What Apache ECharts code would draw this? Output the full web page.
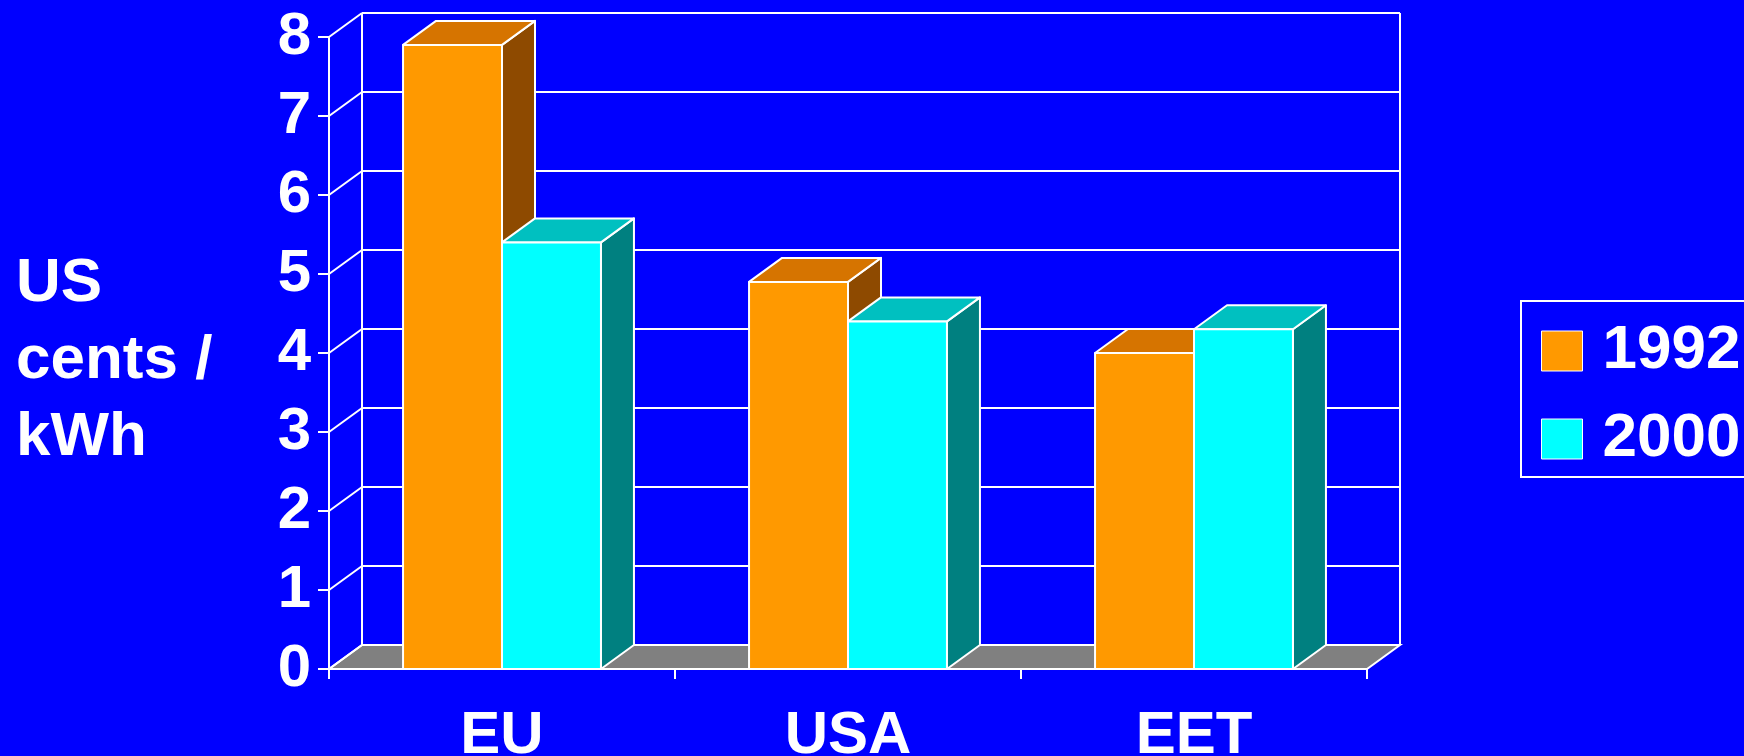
<!DOCTYPE html>
<html>
<head>
<meta charset="utf-8">
<script src="https://cdn.jsdelivr.net/npm/echarts@6/dist/echarts.min.js"></script>
<style>
html,body{margin:0;padding:0;background:#0000FF;}
#chart{width:1744px;height:756px;}
</style>
</head>
<body>
<div id="chart"></div>
<script>
const categories = ['EU', 'USA', 'EET'];
const seriesNames = ['1992', '2000'];
const values1992 = [7.9, 4.9, 4.0];
const values2000 = [5.4, 4.4, 4.3];
const yTicks = [0, 1, 2, 3, 4, 5, 6, 7, 8];

const DX = 33, DY = 24;
const BAR_FRAC = 0.286;
const FONT = 'Liberation Sans, Arial, sans-serif';
const colors = [
  { front: '#FF9900', top: '#D67400', side: '#8E4A00' },
  { front: '#00FFFF', top: '#00C0C0', side: '#008080' }
];

const chart = echarts.init(document.getElementById('chart'), null, { renderer: 'canvas' });

function wallsRender(params, api) {
  const cs = params.coordSys;
  const gx = cs.x, gw = cs.width;
  const children = [];
  const y0 = api.coord([0, yTicks[0]])[1];
  const yTop = api.coord([0, yTicks[yTicks.length - 1]])[1];
  children.push({
    type: 'polygon',
    shape: { points: [[gx, y0], [gx + gw, y0], [gx + gw + DX, y0 - DY], [gx + DX, y0 - DY]] },
    style: { fill: '#808080', stroke: '#FFFFFF', lineWidth: 2 }
  });
  yTicks.forEach(function (v) {
    const y = api.coord([0, v])[1];
    children.push({
      type: 'line',
      shape: { x1: gx + DX, y1: y - DY, x2: gx + gw + DX, y2: y - DY },
      style: { stroke: '#FFFFFF', lineWidth: 2 }
    });
    children.push({
      type: 'line',
      shape: { x1: gx, y1: y, x2: gx + DX, y2: y - DY },
      style: { stroke: '#FFFFFF', lineWidth: 2 }
    });
  });
  children.push({
    type: 'line',
    shape: { x1: gx + DX, y1: y0 - DY, x2: gx + DX, y2: yTop - DY },
    style: { stroke: '#FFFFFF', lineWidth: 2 }
  });
  children.push({
    type: 'line',
    shape: { x1: gx + gw + DX, y1: y0 - DY, x2: gx + gw + DX, y2: yTop - DY },
    style: { stroke: '#FFFFFF', lineWidth: 2 }
  });
  return { type: 'group', children: children };
}

function makeBarRender(idx) {
  return function (params, api) {
    const cat = api.value(0), val = api.value(1);
    const base = api.coord([cat, 0]);
    const top = api.coord([cat, val]);
    const band = api.size([1, 0])[0];
    const w = band * BAR_FRAC;
    const x0 = base[0] + (idx === 0 ? -w : 0);
    const x1 = x0 + w;
    const yb = base[1], yt = top[1];
    const c = colors[idx];
    const st = { stroke: '#FFFFFF', lineWidth: 2, lineJoin: 'round' };
    return {
      type: 'group',
      children: [
        { type: 'polygon', shape: { points: [[x1, yt], [x1 + DX, yt - DY], [x1 + DX, yb - DY], [x1, yb]] },
          style: Object.assign({ fill: c.side }, st) },
        { type: 'polygon', shape: { points: [[x0, yt], [x1, yt], [x1 + DX, yt - DY], [x0 + DX, yt - DY]] },
          style: Object.assign({ fill: c.top }, st) },
        { type: 'rect', shape: { x: x0, y: yt, width: w, height: yb - yt },
          style: Object.assign({ fill: c.front }, st) }
      ]
    };
  };
}

const option = {
  backgroundColor: '#0000FF',
  animation: false,
  title: {
    text: 'US\ncents /\nkWh',
    left: 16,
    top: 245,
    padding: 0,
    textStyle: { color: '#FFFFFF', fontFamily: FONT, fontWeight: 'bold', fontSize: 62, lineHeight: 77 }
  },
  legend: {
    data: seriesNames.map(function (n, i) { return { name: n, icon: 'rect', itemStyle: { color: colors[i].front, borderColor: '#FFFFFF', borderWidth: 1 } }; }),
    orient: 'vertical',
    left: 1521,
    top: 301,
    padding: [19, 20, 7, 20],
    itemWidth: 41,
    itemHeight: 40,
    itemGap: 26,
    borderColor: '#FFFFFF',
    borderWidth: 2,
    textStyle: { color: '#FFFFFF', fontFamily: FONT, fontWeight: 'bold', fontSize: 62, lineHeight: 40, padding: [0, 0, 0, 15] }
  },
  grid: { left: 329, top: 37, width: 1038, height: 632, containLabel: false, outerBoundsMode: 'none' },
  xAxis: {
    type: 'category',
    data: categories,
    boundaryGap: true,
    axisLine: { lineStyle: { color: '#FFFFFF', width: 2 } },
    axisTick: { show: true, length: 10, lineStyle: { color: '#FFFFFF', width: 2 } },
    axisLabel: { color: '#FFFFFF', fontFamily: FONT, fontWeight: 'bold', fontSize: 60, margin: 37 },
    splitLine: { show: false }
  },
  yAxis: {
    type: 'value',
    min: 0,
    max: 8,
    interval: 1,
    axisLine: { show: true, lineStyle: { color: '#FFFFFF', width: 2 } },
    axisTick: { show: true, length: 11, lineStyle: { color: '#FFFFFF', width: 2 } },
    axisLabel: { color: '#FFFFFF', fontFamily: FONT, fontWeight: 'bold', fontSize: 60, margin: 18,
      formatter: function (v) { return String(v); } },
    splitLine: { show: false }
  },
  series: [
    { type: 'custom', name: 'walls', renderItem: wallsRender, data: [[0, 0]], z: 1, silent: true, clip: false },
    { type: 'custom', name: seriesNames[0], renderItem: makeBarRender(0), z: 3, clip: false,
      itemStyle: { color: colors[0].front },
      data: categories.map(function (c, i) { return [i, values1992[i]]; }) },
    { type: 'custom', name: seriesNames[1], renderItem: makeBarRender(1), z: 4, clip: false,
      itemStyle: { color: colors[1].front },
      data: categories.map(function (c, i) { return [i, values2000[i]]; }) }
  ]
};
chart.setOption(option);
</script>
</body>
</html>
